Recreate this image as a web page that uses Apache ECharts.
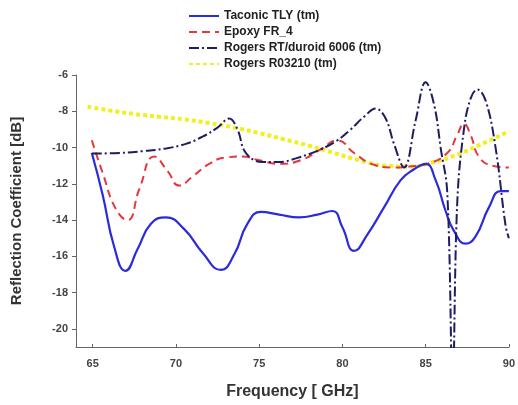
<!DOCTYPE html>
<html>
<head>
<meta charset="utf-8">
<script src="https://cdn.jsdelivr.net/npm/echarts@6/dist/echarts.min.js"></script>
<style>
  html, body { margin: 0; padding: 0; background: #fff; }
  #chart { width: 518px; height: 405px; }
</style>
</head>
<body>
<div id="chart"></div>
<script>
// tick labels
const xTicks = [65, 70, 75, 80, 85, 90];
const yTicks = [-20, -18, -16, -14, -12, -10, -8, -6];

const seriesNames = ['Taconic TLY (tm)', 'Epoxy FR_4', 'Rogers RT/duroid 6006 (tm)', 'Rogers R03210 (tm)'];

// Taconic TLY
const taconicX = [64.95, 65.6, 66.3, 66.97, 67.7, 68.5, 69.4, 70.5, 71.6, 72.7, 73.5, 74.3, 75.1, 76.2, 77.4, 78.5, 79.4, 80.0, 80.7, 81.5, 82.5, 83.5, 84.3, 85.0, 85.6, 86.2, 86.7, 87.4, 88.0, 88.8, 89.5, 90];
const taconicY = [-10.3, -12.6, -15.5, -16.8, -15.6, -14.2, -13.85, -14.5, -15.8, -16.75, -15.9, -14.2, -13.55, -13.7, -13.85, -13.7, -13.5, -14.4, -15.7, -14.8, -13.3, -11.8, -11.2, -10.9, -11.8, -13.5, -14.6, -15.3, -14.9, -13.3, -12.4, -12.4];

// Epoxy FR_4
const epoxyX = [64.95, 65.6, 66.4, 67.1, 67.8, 68.7, 69.5, 70.2, 71.0, 72.0, 73.0, 74.0, 75.0, 76.2, 77.5, 78.7, 79.7, 80.7, 81.9, 83.0, 84.0, 85.1, 86.3, 86.9, 87.3, 87.7, 88.2, 89.0, 90];
const epoxyY = [-9.6, -11.4, -13.4, -14.0, -12.3, -10.5, -11.3, -12.1, -11.6, -10.9, -10.55, -10.5, -10.7, -10.9, -10.7, -10.1, -9.6, -10.3, -10.95, -11.1, -11.05, -10.9, -10.3, -9.3, -8.7, -9.3, -10.5, -11.0, -11.1];

// Rogers RT/duroid 6006
const duroidX = [64.95, 66.6, 68.0, 69.4, 70.6, 71.6, 72.5, 73.2, 73.7, 74.2, 75.2, 76.2, 77.2, 78.7, 79.7, 80.5, 81.3, 82.0, 82.6, 83.1, 83.7, 84.4, 85.0, 85.5, 85.9, 86.3, 86.62, 86.9, 87.3, 87.7, 88.1, 88.6, 89.2, 89.8, 90];
const duroidY = [-10.33, -10.3, -10.2, -10.05, -9.8, -9.4, -8.9, -8.4, -9.0, -10.3, -10.8, -10.8, -10.6, -10.1, -9.6, -9.0, -8.3, -7.85, -8.4, -9.8, -11.1, -8.5, -6.4, -7.6, -10.0, -12.5, -23, -13, -9.0, -7.3, -6.8, -7.4, -10.0, -14.3, -15.0];

// Rogers R03210
const r03210X = [64.7, 66, 67.5, 69, 70.5, 72, 73.5, 75, 76.5, 78, 79.5, 81, 82.5, 84, 85.5, 87, 88.5, 90];
const r03210Y = [-7.75, -7.95, -8.15, -8.3, -8.45, -8.65, -8.9, -9.2, -9.55, -9.9, -10.3, -10.7, -11.0, -11.05, -10.8, -10.35, -9.75, -9.1];

function pairs(xs, ys) {
  return xs.map((x, i) => [x, ys[i]]);
}

const chart = echarts.init(document.getElementById('chart'));
const fontFam = '"Liberation Sans", Arial, sans-serif';

const option = {
  animation: false,
  backgroundColor: '#fff',
  grid: { left: 76, right: 6, top: 75, bottom: 58 },
  legend: {
    orient: 'vertical',
    left: 183,
    top: 5,
    itemWidth: 30,
    itemHeight: 12,
    itemGap: 4,
    data: seriesNames,
    itemStyle: { opacity: 0 },
    textStyle: { fontFamily: fontFam, fontWeight: 'bold', fontSize: 12, color: '#222' }
  },
  xAxis: {
    type: 'value',
    min: 64,
    max: 90,
    name: 'Frequency [ GHz]',
    nameLocation: 'middle',
    nameGap: 37,
    nameTextStyle: { fontFamily: fontFam, fontWeight: 'bold', fontSize: 16, color: '#333' },
    axisLine: { lineStyle: { color: '#666', width: 1 } },
    axisTick: { inside: true, length: 3, customValues: xTicks, lineStyle: { color: '#666' } },
    axisLabel: { customValues: xTicks, margin: 11, fontFamily: fontFam, fontWeight: 'bold', fontSize: 11, color: '#444' },
    splitLine: { show: false }
  },
  yAxis: {
    type: 'value',
    min: -21,
    max: -6,
    name: 'Reflection Coefficient [dB]',
    nameLocation: 'middle',
    nameGap: 52,
    nameTextStyle: { fontFamily: fontFam, fontWeight: 'bold', fontSize: 15, color: '#333' },
    axisLine: { show: true, lineStyle: { color: '#666', width: 1 } },
    axisTick: { show: true, length: 4, customValues: yTicks, lineStyle: { color: '#666' } },
    axisLabel: { customValues: yTicks, margin: 8, fontFamily: fontFam, fontWeight: 'bold', fontSize: 11, color: '#444' },
    splitLine: { show: false }
  },
  series: [
    {
      name: seriesNames[0], type: 'line', data: pairs(taconicX, taconicY),
      symbol: 'none', smooth: 0.5,
      lineStyle: { color: '#2b2bdc', width: 2.2, type: 'solid' }, itemStyle: { color: '#2b2bdc' }, z: 4
    },
    {
      name: seriesNames[1], type: 'line', data: pairs(epoxyX, epoxyY),
      symbol: 'none', smooth: 0.5,
      lineStyle: { color: '#e5383c', width: 2, type: [8, 5] }, itemStyle: { color: '#e5383c' }, z: 3
    },
    {
      name: seriesNames[2], type: 'line', data: pairs(duroidX, duroidY),
      symbol: 'none', smooth: 0.4,
      lineStyle: { color: '#1d1d60', width: 2, type: [10, 3, 2, 3] }, itemStyle: { color: '#1d1d60' }, z: 5
    },
    {
      name: seriesNames[3], type: 'line', data: pairs(r03210X, r03210Y),
      symbol: 'none', smooth: 0.5,
      lineStyle: { color: '#f0f01e', width: 4, type: [4, 3] }, itemStyle: { color: '#f0f01e' }, z: 2
    }
  ]
};

chart.setOption(option);
window.addEventListener('resize', function () {
  chart.resize();
});
</script>
</body>
</html>
